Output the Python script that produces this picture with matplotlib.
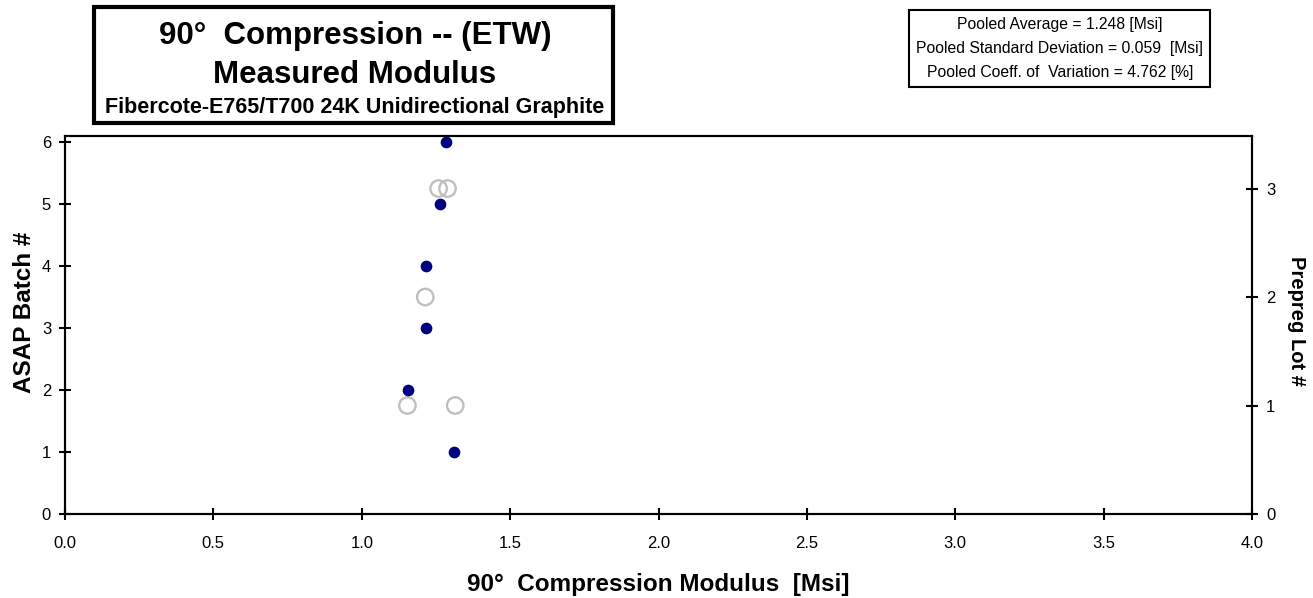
import matplotlib
matplotlib.use("Agg")
import matplotlib.pyplot as plt
from matplotlib.patches import Rectangle

plt.rcParams['font.family'] = ['Liberation Sans', 'DejaVu Sans']

# Data
batch_modulus = [1.311, 1.156, 1.217, 1.217, 1.264, 1.284]
batch_number = [1, 2, 3, 4, 5, 6]
lot_modulus = [1.154, 1.315, 1.214, 1.259, 1.289]
lot_number = [1, 1, 2, 3, 3]
x_ticks = [0.0, 0.5, 1.0, 1.5, 2.0, 2.5, 3.0, 3.5, 4.0]
left_ticks = [0, 1, 2, 3, 4, 5, 6]
right_ticks = [0, 1, 2, 3]
stats_lines = ["Pooled Average = 1.248 [Msi]",
               "Pooled Standard Deviation = 0.059  [Msi]",
               "Pooled Coeff. of  Variation = 4.762 [%]"]

W, H = 1313, 598
fig = plt.figure(figsize=(W / 100, H / 100), dpi=100)
L, R, T, B = 65, 1252, 136, 514
ax = fig.add_axes([L / W, 1 - B / H, (R - L) / W, (B - T) / H])
ax2 = ax.twinx()

ymax = 6.097
ax.set_xlim(0, 4.0)
ax.set_ylim(0, ymax)
ax2.set_ylim(0, ymax / 1.75)

ax2.scatter(lot_modulus, lot_number, s=140, facecolors='none',
            edgecolors='#c0c0c0', linewidths=1.7, zorder=2)
ax.scatter(batch_modulus, batch_number, s=55, color='#000080', zorder=3,
           clip_on=False)
ax.set_zorder(ax2.get_zorder() + 1)
ax.patch.set_visible(False)

ax.set_xticks(x_ticks)
ax.set_xticklabels([f"{v:.1f}" for v in x_ticks])
ax.set_yticks(left_ticks)
ax2.set_yticks(right_ticks)
for a in (ax, ax2):
    for s in a.spines.values():
        s.set_linewidth(1.5)
    a.tick_params(direction='inout', length=8, width=1.5, labelsize=12,
                  colors='black')
ax.tick_params(axis='x', pad=12)
ax.tick_params(axis='y', pad=6)
ax2.tick_params(axis='y', pad=6)

ax.set_xlabel("90°  Compression Modulus  [Msi]", fontsize=17.5,
              fontweight='bold')
ax.xaxis.set_label_coords(0.5, -(591 - 514) / (B - T))
ax.xaxis.label.set_va('baseline')
ax.set_ylabel("ASAP Batch #", fontsize=17.5, fontweight='bold')
ax.yaxis.set_label_coords(-(65 - 13) / (R - L), (514 - 312) / (B - T))
ax.yaxis.label.set_va('top')
ax2.set_ylabel("Prepreg Lot #", fontsize=14.5, fontweight='bold',
               rotation=-90)
ax2.yaxis.set_label_coords(1 + (1297 - R) / (R - L), (514 - 321) / (B - T))
ax2.yaxis.label.set_va('center')

# Title box
fig.patches.append(Rectangle((94 / W, 1 - 123 / H), (613 - 94) / W,
                             (123 - 7) / H, transform=fig.transFigure,
                             fill=False, edgecolor='black', linewidth=3))
cx = 355 / W
fig.text(cx, 1 - 44 / H, "90°  Compression -- (ETW)", ha='center',
         va='baseline', fontsize=22.5, fontweight='bold')
fig.text(cx, 1 - 83 / H, "Measured Modulus", ha='center', va='baseline',
         fontsize=22.5, fontweight='bold')
fig.text(cx, 1 - 113 / H, "Fibercote-E765/T700 24K Unidirectional Graphite",
         ha='center', va='baseline', fontsize=15.5, fontweight='bold')

# Stats box
fig.patches.append(Rectangle((909 / W, 1 - 87 / H), (1210 - 909) / W,
                             (87 - 10) / H, transform=fig.transFigure,
                             fill=False, edgecolor='black', linewidth=1.5))
for i, line in enumerate(stats_lines):
    fig.text(1060 / W, 1 - (29 + 24 * i) / H, line, ha='center',
             va='baseline', fontsize=11.3)

fig.savefig("out.png", dpi=100)
